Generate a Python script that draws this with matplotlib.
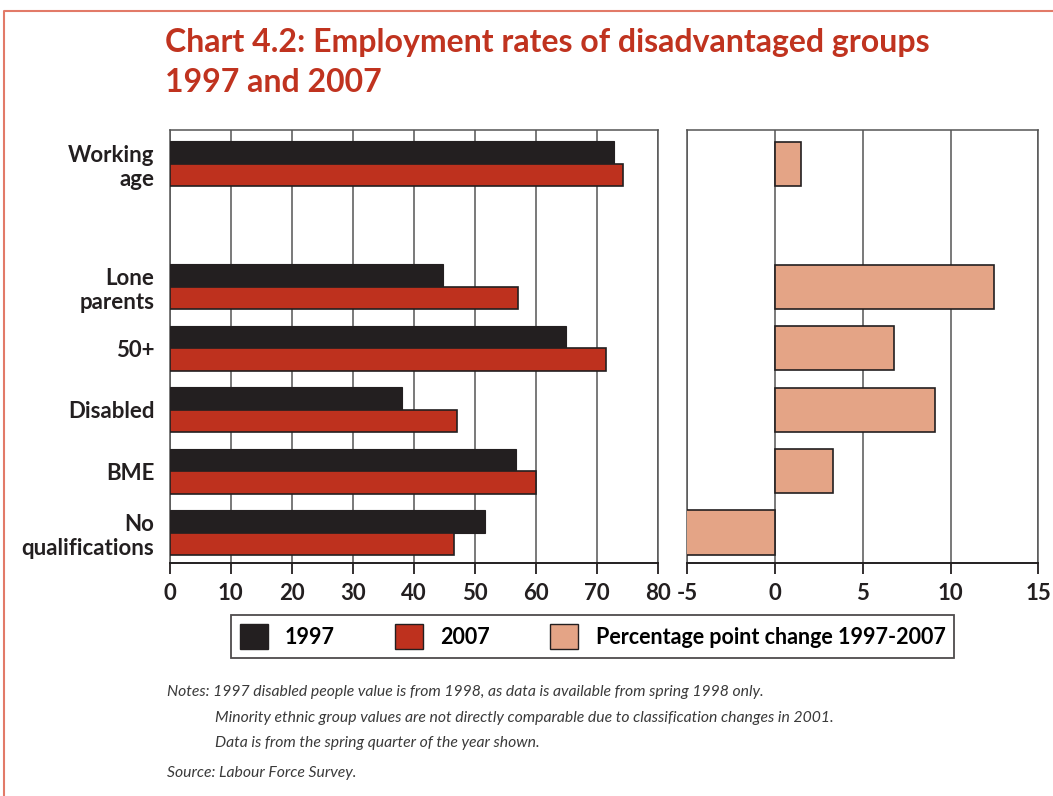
import matplotlib
matplotlib.use("Agg")
import matplotlib.pyplot as plt
from matplotlib import font_manager
from matplotlib.patches import Patch
from matplotlib.lines import Line2D

# ---- data -------------------------------------------------------------
groups = ["Working\nage", "Lone\nparents", "50+", "Disabled", "BME", "No\nqualifications"]
group_pos = [0, 2, 3, 4, 5, 6]          # blank row between working age and the groups
rate_1997 = [72.7, 44.7, 64.9, 38.1, 56.7, 51.7]
rate_2007 = [74.3, 57.1, 71.5, 47.1, 60.0, 46.5]
pp_change = [1.5, 12.5, 6.8, 9.1, 3.3, -5.2]

rate_ticks = [0, 10, 20, 30, 40, 50, 60, 70, 80]
change_ticks = [-5, 0, 5, 10, 15]

title = "Chart 4.2: Employment rates of disadvantaged groups\n1997 and 2007"
notes = [
    "Notes: 1997 disabled people value is from 1998, as data is available from spring 1998 only.",
    "Minority ethnic group values are not directly comparable due to classification changes in 2001.",
    "Data is from the spring quarter of the year shown.",
]
source = "Source: Labour Force Survey."

# ---- style ------------------------------------------------------------
names = {f.name for f in font_manager.fontManager.ttflist}
FONT = "Lato" if "Lato" in names else "DejaVu Sans"
FAM = [FONT, "DejaVu Sans"]
plt.rcParams["font.family"] = FAM

C_1997 = "#231f20"
C_2007 = "#be311e"
C_CHG = "#e4a486"
C_EDGE = "#231f20"
C_GRID = "#555555"
C_TITLE = "#c0331f"

W, H = 1053, 796
fig = plt.figure(figsize=(W / 100, H / 100), dpi=100)

def fig_rect(x0, y0, x1, y1):
    return [x0 / W, 1 - y1 / H, (x1 - x0) / W, (y1 - y0) / H]

ax1 = fig.add_axes(fig_rect(169.7, 130, 658.3, 563.3))
ax2 = fig.add_axes(fig_rect(687.3, 130, 1038.3, 563.3))

bh = 0.366
pos_1997 = [p - bh / 2 for p in group_pos]
pos_2007 = [p + bh / 2 for p in group_pos]
ax1.barh(pos_1997, rate_1997, height=bh, color=C_1997, edgecolor=C_1997, linewidth=0.8, zorder=3)
ax1.barh(pos_2007, rate_2007, height=bh, color=C_2007, edgecolor=C_EDGE, linewidth=1.2, zorder=3)
ax2.barh(group_pos, pp_change, height=0.72, color=C_CHG, edgecolor=C_EDGE, linewidth=1.2, zorder=3)

for ax, ticks in ((ax1, rate_ticks), (ax2, change_ticks)):
    ax.set_xlim(ticks[0], ticks[-1])
    ax.set_ylim(6.5, -0.55)
    ax.set_xticks(ticks)
    ax.set_xticklabels([str(t) for t in ticks], fontsize=16, fontweight="bold", color="#231f20")
    ax.tick_params(axis="x", direction="out", length=8, width=1.3, color=C_EDGE, pad=6)
    ax.grid(axis="x", color=C_GRID, linewidth=1.1, zorder=0)
    for s in ax.spines.values():
        s.set_color(C_GRID)
        s.set_linewidth(1.1)
    ax.spines["bottom"].set_color(C_EDGE)
    ax.spines["bottom"].set_linewidth(1.4)

ax1.set_yticks(group_pos)
ax1.set_yticklabels(groups, fontsize=16, fontweight="bold", color="#231f20")
ax1.tick_params(axis="y", length=0, pad=11)
ax2.set_yticks([])

# ---- legend -----------------------------------------------------------
handles = [
    Patch(facecolor=C_1997, edgecolor=C_EDGE, label="1997"),
    Patch(facecolor=C_2007, edgecolor=C_EDGE, label="2007"),
    Patch(facecolor=C_CHG, edgecolor=C_EDGE, label="Percentage point change 1997-2007"),
]
leg = fig.legend(handles=handles, loc="center", bbox_to_anchor=(592.5 / W, 1 - 636.5 / H),
                 ncol=3, frameon=True, fancybox=False, edgecolor=C_EDGE,
                 prop={"family": FAM, "weight": "bold", "size": 15.5},
                 handlelength=1.3, handleheight=1.4, handletextpad=0.8,
                 columnspacing=2.8, borderpad=0.4, borderaxespad=0)
leg.get_frame().set_linewidth(1.3)

# ---- title and notes --------------------------------------------------
fig.text(165 / W, 1 - 28 / H, title, ha="left", va="top", fontsize=23, fontweight="bold",
         color=C_TITLE, linespacing=1.45)

note_kw = dict(ha="left", va="baseline", fontsize=11.3, style="italic", color="#3a3a3a")
fig.text(167 / W, 1 - 696 / H, notes[0], **note_kw)
fig.text(215 / W, 1 - 722 / H, notes[1], **note_kw)
fig.text(215 / W, 1 - 747 / H, notes[2], **note_kw)
fig.text(167 / W, 1 - 777 / H, source, **note_kw)

# ---- page frame -------------------------------------------------------
frame = Line2D([4 / W, 4 / W, 1.0], [0.0, 1 - 11 / H, 1 - 11 / H], transform=fig.transFigure,
               color="#e27a68", linewidth=1.5)
fig.add_artist(frame)

fig.savefig("out.png", dpi=100)
